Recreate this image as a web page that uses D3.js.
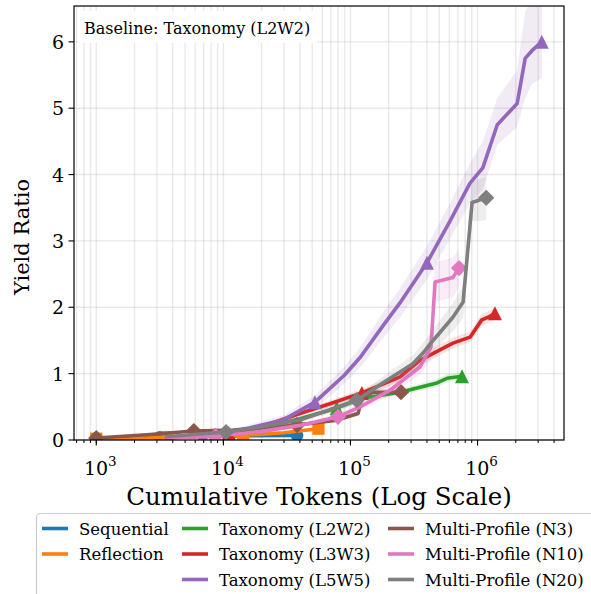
<!DOCTYPE html>
<html><head><meta charset="utf-8">
<script src="https://cdn.jsdelivr.net/npm/d3@7/dist/d3.min.js"></script>
<style>body{margin:0;background:#fff}svg{display:block}text{font-family:"DejaVu Serif",serif;fill:#000}</style>
</head><body><svg id="c" width="591" height="594"></svg>
<script>
// ---- data ----
const seqX = [1000, 3160, 11200, 38000];
const seqY = [0.02, 0.04, 0.06, 0.07];
const seqMk = [0, 1, 2, 3];

const refX = [1000, 3640, 14300, 30000, 56000];
const refY = [0.02, 0.04, 0.07, 0.11, 0.17];
const refMk = [0, 1, 2, 4];

const t2X = [3500, 8600, 20000, 40000, 78000, 125000, 246000, 480000, 575000, 755000];
const t2Y = [0.03, 0.08, 0.18, 0.32, 0.48, 0.63, 0.72, 0.86, 0.93, 0.96];
const t2Lo = [0.02, 0.07, 0.16, 0.29, 0.44, 0.58, 0.67, 0.80, 0.87, 0.90];
const t2Hi = [0.04, 0.09, 0.20, 0.35, 0.52, 0.68, 0.77, 0.92, 0.99, 1.02];
const t2Mk = [1, 4, 9];

const t3X = [3500, 11000, 20000, 40000, 70000, 123000, 246000, 352000, 640000, 873000, 1080000, 1210000, 1370000];
const t3Y = [0.03, 0.10, 0.20, 0.40, 0.55, 0.71, 0.95, 1.20, 1.46, 1.55, 1.81, 1.85, 1.91];
const t3Lo = [0.02, 0.08, 0.17, 0.36, 0.50, 0.65, 0.88, 1.12, 1.38, 1.47, 1.72, 1.76, 1.82];
const t3Hi = [0.04, 0.12, 0.23, 0.44, 0.60, 0.77, 1.02, 1.28, 1.54, 1.63, 1.90, 1.94, 2.00];
const t3Mk = [1, 5, 12];

const t5X = [6900, 16000, 29400, 52500, 90000, 120000, 180000, 246000, 400000, 607000, 873000, 1100000, 1430000, 2050000, 2370000, 2690000, 3200000];
const t5Y = [0.05, 0.18, 0.30, 0.57, 0.98, 1.25, 1.72, 2.07, 2.67, 3.30, 3.87, 4.10, 4.75, 5.07, 5.75, 5.87, 6.00];
const t5Lo = [0.03, 0.13, 0.23, 0.47, 0.85, 1.10, 1.53, 1.85, 2.42, 3.03, 3.57, 3.78, 4.45, 4.72, 5.15, 5.37, 5.45];
const t5Hi = [0.07, 0.23, 0.37, 0.67, 1.11, 1.40, 1.92, 2.29, 2.92, 3.57, 4.17, 4.50, 5.15, 5.57, 6.45, 6.67, 6.80];
const t5Mk = [0, 3, 8, 16];

const n3X = [1000, 2500, 5860, 12000, 20000, 38000, 78000, 115000, 123000, 150000, 250000];
const n3Y = [0.03, 0.08, 0.135, 0.15, 0.18, 0.225, 0.30, 0.40, 0.65, 0.72, 0.72];
const n3Lo = [0.02, 0.07, 0.12, 0.13, 0.16, 0.20, 0.27, 0.36, 0.60, 0.67, 0.67];
const n3Hi = [0.04, 0.09, 0.15, 0.17, 0.20, 0.25, 0.33, 0.44, 0.70, 0.77, 0.77];
const n3Mk = [0, 2, 5, 10];

const n10X = [3500, 8700, 20000, 40000, 79800, 119000, 205000, 352000, 430000, 463000, 640000, 715000];
const n10Y = [0.03, 0.06, 0.13, 0.22, 0.35, 0.50, 0.75, 1.10, 1.40, 2.38, 2.45, 2.59];
const n10Lo = [0.02, 0.05, 0.11, 0.19, 0.31, 0.44, 0.67, 0.98, 1.20, 2.08, 2.15, 2.30];
const n10Hi = [0.04, 0.07, 0.15, 0.25, 0.39, 0.56, 0.83, 1.22, 1.60, 2.68, 2.75, 2.88];
const n10Mk = [1, 4, 11];

const n20X = [3500, 10500, 20000, 40000, 112000, 194000, 310000, 372000, 447000, 640000, 770000, 906000, 1050000, 1170000];
const n20Y = [0.05, 0.12, 0.20, 0.30, 0.60, 0.90, 1.15, 1.31, 1.50, 1.85, 2.08, 3.58, 3.62, 3.65];
const n20Lo = [0.04, 0.10, 0.17, 0.26, 0.53, 0.80, 1.02, 1.16, 1.33, 1.64, 1.84, 3.30, 3.30, 3.32];
const n20Hi = [0.06, 0.14, 0.23, 0.34, 0.67, 1.00, 1.28, 1.46, 1.67, 2.06, 2.32, 3.90, 3.94, 3.97];
const n20Mk = [1, 4, 13];

const yTicks = [0, 1, 2, 3, 4, 5, 6];
const xTickExps = [3, 4, 5, 6];
const xDomain = [668, 4.79e6];
const yDomain = [0, 6.54];
const seriesNames = ["Sequential", "Reflection", "Taxonomy (L2W2)", "Taxonomy (L3W3)", "Taxonomy (L5W5)", "Multi-Profile (N3)", "Multi-Profile (N10)", "Multi-Profile (N20)"];
const colors = ["#1f77b4", "#ff7f0e", "#2ca02c", "#d62728", "#9467bd", "#8c564b", "#e377c2", "#7f7f7f"];
const annotation = "Baseline: Taxonomy (L2W2)";

const series = [
  {x: seqX, y: seqY, mk: seqMk, m: "circle"},
  {x: refX, y: refY, mk: refMk, m: "square"},
  {x: t2X, y: t2Y, lo: t2Lo, hi: t2Hi, mk: t2Mk, m: "tri"},
  {x: t3X, y: t3Y, lo: t3Lo, hi: t3Hi, mk: t3Mk, m: "tri"},
  {x: t5X, y: t5Y, lo: t5Lo, hi: t5Hi, mk: t5Mk, m: "tri"},
  {x: n3X, y: n3Y, lo: n3Lo, hi: n3Hi, mk: n3Mk, m: "diamond"},
  {x: n10X, y: n10Y, lo: n10Lo, hi: n10Hi, mk: n10Mk, m: "diamond"},
  {x: n20X, y: n20Y, lo: n20Lo, hi: n20Hi, mk: n20Mk, m: "diamond"},
].map((s, i) => ({...s, name: seriesNames[i], color: colors[i]}));

// ---- layout ----
const L = 74, R = 564, T = 6, B = 440;
const svg = d3.select("#c");
const x = d3.scaleLog().domain(xDomain).range([L, R]);
const y = d3.scaleLinear().domain(yDomain).range([B, T]);

svg.append("defs").append("clipPath").attr("id", "clip")
  .append("rect").attr("x", L).attr("y", T).attr("width", R - L).attr("height", B - T);

// grid
const minorTicks = [];
for (let e = 2; e <= 6; e++) for (let m = 1; m <= 9; m++) {
  const v = m * Math.pow(10, e);
  if (v >= xDomain[0] && v <= xDomain[1]) minorTicks.push(v);
}
const grid = svg.append("g");
grid.selectAll("line.v").data(minorTicks).join("line")
  .attr("x1", d => x(d)).attr("x2", d => x(d)).attr("y1", T).attr("y2", B)
  .attr("stroke", "#b0b0b0").attr("stroke-opacity", 0.28).attr("stroke-width", 1.4);
grid.selectAll("line.h").data(yTicks).join("line")
  .attr("x1", L).attr("x2", R).attr("y1", d => y(d)).attr("y2", d => y(d))
  .attr("stroke", "#b0b0b0").attr("stroke-opacity", 0.28).attr("stroke-width", 1.4);

// series
const plot = svg.append("g").attr("clip-path", "url(#clip)");
const line = d3.line().x(d => x(d[0])).y(d => y(d[1]));
const area = d3.area().x(d => x(d[0])).y0(d => y(d[1])).y1(d => y(d[2]));
const triPath = d3.line()([[0, -7], [7, 7], [-7, 7]]) + "Z";
function markerPath(m) {
  if (m === "circle") return d3.symbol(d3.symbolCircle, 125)();
  if (m === "square") return d3.symbol(d3.symbolSquare, 150)();
  if (m === "tri") return triPath;
  return d3.symbol(d3.symbolSquare, 132)();
}
series.forEach(s => {
  const g = plot.append("g");
  if (s.lo) {
    g.append("path").datum(s.x.map((v, i) => [v, s.lo[i], s.hi[i]]))
      .attr("d", area).attr("fill", s.color).attr("fill-opacity", 0.13);
  }
  g.append("path").datum(s.x.map((v, i) => [v, s.y[i]]))
    .attr("d", line).attr("fill", "none").attr("stroke", s.color)
    .attr("stroke-width", 3.6).attr("stroke-linejoin", "round").attr("stroke-linecap", "butt");
  g.selectAll("path.mk").data(s.mk).join("path")
    .attr("d", markerPath(s.m)).attr("fill", s.color)
    .attr("transform", i => `translate(${x(s.x[i])},${y(s.y[i])})` + (s.m === "diamond" ? " rotate(45)" : ""));
});

// spines
svg.append("rect").attr("x", L).attr("y", T).attr("width", R - L).attr("height", B - T)
  .attr("fill", "none").attr("stroke", "#000").attr("stroke-width", 1.2);

// x ticks
const ax = svg.append("g");
ax.selectAll("line.mi").data(minorTicks).join("line")
  .attr("x1", d => x(d)).attr("x2", d => x(d)).attr("y1", B).attr("y2", B + 3)
  .attr("stroke", "#000").attr("stroke-width", 1);
ax.selectAll("line.ma").data(xTickExps).join("line")
  .attr("x1", d => x(Math.pow(10, d))).attr("x2", d => x(Math.pow(10, d))).attr("y1", B).attr("y2", B + 5.5)
  .attr("stroke", "#000").attr("stroke-width", 1.1);
const xl = ax.selectAll("text.xt").data(xTickExps).join("text")
  .attr("x", d => x(Math.pow(10, d)) + 4).attr("y", B + 35).attr("text-anchor", "middle")
  .style("font-size", "19px");
xl.append("tspan").text("10");
xl.append("tspan").attr("dy", -9).style("font-size", "13.5px").text(d => d);

// y ticks
ax.selectAll("line.yt").data(yTicks).join("line")
  .attr("x1", L - 5.5).attr("x2", L).attr("y1", d => y(d)).attr("y2", d => y(d))
  .attr("stroke", "#000").attr("stroke-width", 1.1);
ax.selectAll("text.yt").data(yTicks).join("text")
  .attr("x", L - 10).attr("y", d => y(d) + 7).attr("text-anchor", "end")
  .style("font-size", "19px").text(d => d);

// axis labels
svg.append("text").attr("x", (L + R) / 2).attr("y", 505).attr("text-anchor", "middle")
  .style("font-size", "24.5px").text("Cumulative Tokens (Log Scale)");
svg.append("text").attr("transform", `translate(29,${(T + B) / 2 + 14}) rotate(-90)`).attr("text-anchor", "middle")
  .style("font-size", "21px").text("Yield Ratio");

// annotation
svg.append("rect").attr("x", 78).attr("y", 11).attr("width", 240).attr("height", 32).attr("fill", "#fff");
svg.append("text").attr("x", 84).attr("y", 34).style("font-size", "16px").text(annotation);

// legend
const lg = svg.append("g");
lg.append("rect").attr("x", 36.5).attr("y", 513.5).attr("width", 600).attr("height", 100).attr("rx", 4)
  .attr("fill", "#fff").attr("fill-opacity", 0.8).attr("stroke", "#cccccc").attr("stroke-width", 1.2);
const colX = [42, 182, 388];
const rowY = [528.5, 554, 579.5];
const slots = [[0,0],[0,1],[1,0],[1,1],[1,2],[2,0],[2,1],[2,2]];
series.forEach((s, i) => {
  const [c, r] = slots[i];
  lg.append("line").attr("x1", colX[c]).attr("x2", colX[c] + 26).attr("y1", rowY[r]).attr("y2", rowY[r])
    .attr("stroke", s.color).attr("stroke-width", 3.6);
  lg.append("text").attr("x", colX[c] + 37).attr("y", rowY[r] + 6).style("font-size", "16.5px").text(s.name);
});
</script></body></html>
